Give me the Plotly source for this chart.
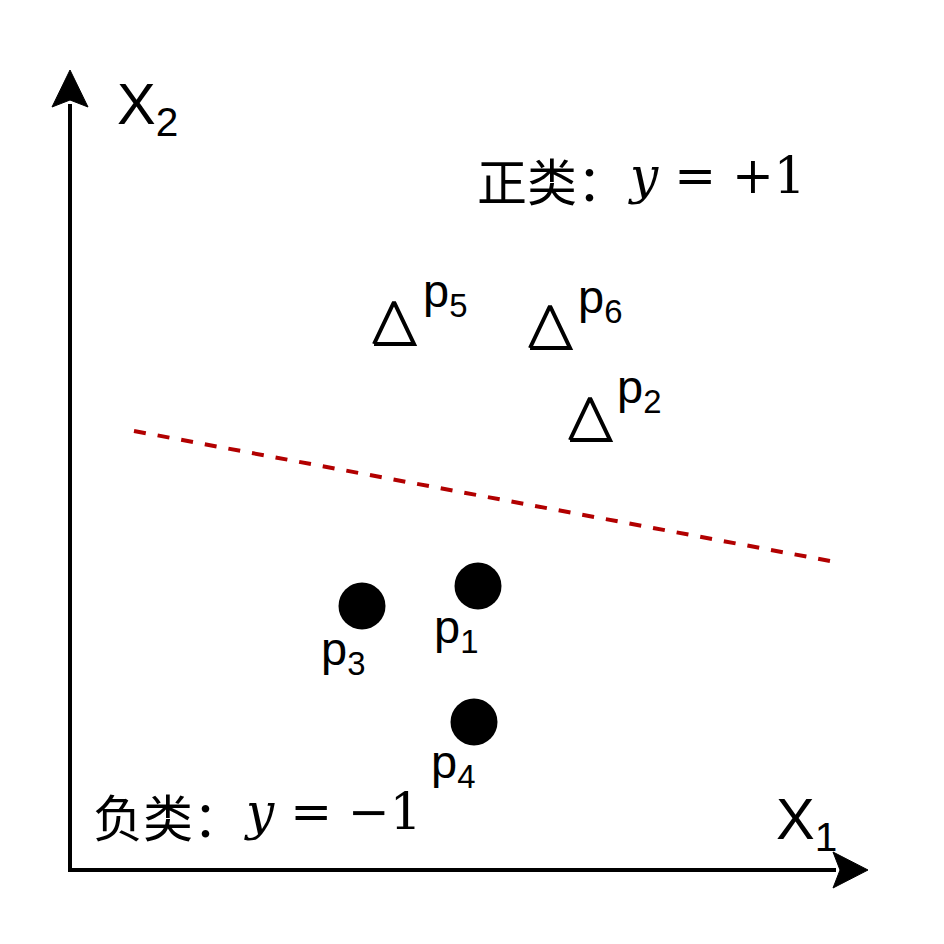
import plotly.graph_objects as go

# ---- data (origin at the axes corner, units = screen pixels) ----
neg_names = ["p1", "p3", "p4"]
neg_x = [408, 292, 404]
neg_y = [284, 264, 148]

pos_names = ["p2", "p5", "p6"]
pos_x = [520, 324, 480]
pos_y = [449, 545, 541]

boundary_x = [64, 760]
boundary_y = [439, 309]

label_names = ["p1", "p2", "p3", "p4", "p5", "p6"]
label_x = [362, 545, 249, 359, 351, 506]
label_y = [240, 480, 218, 105, 576, 570]

# ---- figure ----
fig = go.Figure()

# triangles (open) built around each positive point
TW, TB, TT = 20, 19, 23
tx, ty = [], []
for cx, cy in zip(pos_x, pos_y):
    tx += [cx - TW, cx + TW, cx, cx - TW, None]
    ty += [cy - TB, cy - TB, cy + TT, cy - TB, None]
fig.add_trace(go.Scatter(x=tx, y=ty, mode="lines",
                         line=dict(color="black", width=4),
                         hoverinfo="skip", showlegend=False))

fig.add_trace(go.Scatter(x=neg_x, y=neg_y, mode="markers",
                         marker=dict(symbol="circle", size=47, color="black"),
                         showlegend=False))

fig.add_trace(go.Scatter(x=boundary_x, y=boundary_y, mode="lines",
                         line=dict(color="#B20000", width=4, dash="12px,12px"),
                         showlegend=False))

LABEL_FONT = dict(family="Liberation Sans, Arial, sans-serif", size=47, color="black")
annotations = []
for name, lx, ly in zip(label_names, label_x, label_y):
    annotations.append(dict(x=lx, y=ly, xref="x", yref="y",
                            text=f"{name[0]}<sub>{name[1:]}</sub>",
                            showarrow=False, xanchor="left", yanchor="middle",
                            font=LABEL_FONT))

AX_FONT = dict(family="Liberation Sans, Arial, sans-serif", size=58, color="black")
annotations.append(dict(x=45, y=762, text="X<sub>2</sub>", showarrow=False,
                        xanchor="left", yanchor="middle", font=AX_FONT))
annotations.append(dict(x=704, y=47, text="X<sub>1</sub>", showarrow=False,
                        xanchor="left", yanchor="middle", font=AX_FONT))

CJK = dict(family="Noto Sans CJK SC", size=50, color="black")
MATH = dict(family="DejaVu Serif, Liberation Serif, serif", size=50, color="black")
annotations += [
    dict(x=405, y=691, text="正类：", showarrow=False, xanchor="left",
         yanchor="middle", font=CJK),
    dict(x=556, y=694, text="<i>y</i> = +1", showarrow=False, xanchor="left",
         yanchor="middle", font=MATH),
    dict(x=21, y=55, text="负类：", showarrow=False, xanchor="left",
         yanchor="middle", font=CJK),
    dict(x=172, y=58, text="<i>y</i> = −1", showarrow=False, xanchor="left",
         yanchor="middle", font=MATH),
]

shapes = [
    # axes
    dict(type="path", path="M 0,766 L 0,0 L 766,0", xref="x", yref="y",
         line=dict(color="black", width=4)),
    # arrowheads
    dict(type="path", path="M 0,800 L -18,763 L 0,770 L 18,763 Z", xref="x", yref="y",
         line=dict(color="black", width=1), fillcolor="black"),
    dict(type="path", path="M 798,0 L 763,18 L 770,0 L 763,-18 Z", xref="x", yref="y",
         line=dict(color="black", width=1), fillcolor="black"),
]

fig.update_layout(
    width=944, height=944,
    margin=dict(l=0, r=0, t=0, b=0),
    paper_bgcolor="white", plot_bgcolor="white",
    xaxis=dict(range=[-62, 882], visible=False, fixedrange=True),
    yaxis=dict(range=[-82, 862], visible=False, fixedrange=True),
    annotations=annotations, shapes=shapes,
    showlegend=False,
)

fig.write_html("out.html")
